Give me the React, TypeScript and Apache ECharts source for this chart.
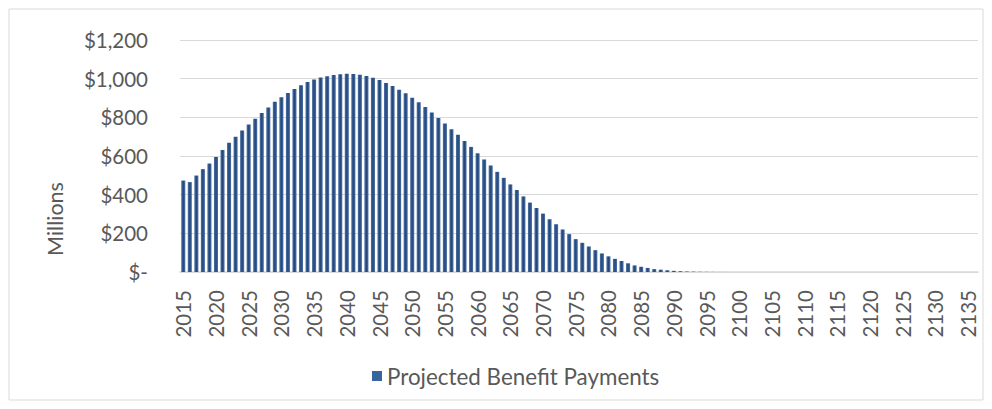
import React, { useEffect, useRef } from "react";
import * as echarts from "echarts";

const years: string[] = [];
for (let y = 2015; y <= 2136; y++) years.push(String(y));

const payments: number[] = [
  473, 465, 499, 532, 561, 595, 631, 668, 700, 732,
  763, 793, 822, 851, 880, 904, 926, 946, 966, 983,
  996, 1006, 1013, 1019, 1023, 1025, 1024, 1020, 1014, 1005,
  993, 978, 962, 943, 925, 901, 878, 853, 825, 796,
  768, 739, 710, 678, 647, 614, 582, 551, 518, 487,
  453, 424, 391, 359, 331, 302, 273, 247, 220, 196,
  170, 151, 132, 113, 96, 81, 68, 57, 45, 34,
  27, 21, 15, 12, 9, 6, 4, 2.5, 1.8, 1.2,
  0.8, 0.5, 0.3, 0.2, 0.1, 0.05, 0.03, 0.02, 0.01, 0,
  0, 0, 0, 0, 0, 0, 0, 0, 0, 0,
  0, 0, 0, 0, 0, 0, 0, 0, 0, 0,
  0, 0, 0, 0, 0, 0, 0, 0, 0, 0,
  0, 0,
];

const yTicks = { min: 0, max: 1200, interval: 200 };
const seriesName = "Projected Benefit Payments";
const axisTitle = "Millions";

const FONT = "Lato";
const TEXT = "#595959";

function fmtMoney(v: number): string {
  if (v === 0) return "$-";
  return "$" + v.toLocaleString("en-US");
}

export default function App() {
  const ref = useRef<HTMLDivElement>(null);
  useEffect(() => {
    if (!ref.current) return;
    const chart = echarts.init(ref.current, undefined, { renderer: "svg" });
    chart.setOption({
      animation: false,
      textStyle: { fontFamily: FONT },
      grid: { left: 172, right: 6, top: 32, bottom: 129, containLabel: false },
      graphic: [
        {
          type: "rect",
          shape: { x: 1, y: 1, width: 974, height: 391 },
          style: { fill: "none", stroke: "#d9d9d9", lineWidth: 1 },
          silent: true,
        },
        {
          type: "text",
          x: 47,
          y: 211,
          rotation: Math.PI / 2,
          style: {
            text: axisTitle,
            fill: TEXT,
            font: `21.5px ${FONT}`,
            align: "center",
            verticalAlign: "middle",
          },
        },
      ],
      legend: {
        left: 359,
        top: 352,
        itemWidth: 10,
        itemHeight: 10,
        icon: "rect",
        textStyle: { color: TEXT, fontSize: 22.4, fontFamily: FONT },
        data: [{ name: seriesName, itemStyle: { color: "#3a64a0" } }],
      },
      xAxis: {
        type: "category",
        data: years,
        axisLine: { show: true, lineStyle: { color: "#d9d9d9", width: 1.5 } },
        axisTick: { show: false },
        axisLabel: {
          rotate: 90,
          interval: 4,
          margin: 18,
          color: TEXT,
          fontSize: 20.5,
          fontFamily: FONT,
        },
        splitLine: { show: false },
      },
      yAxis: {
        type: "value",
        min: yTicks.min,
        max: yTicks.max,
        interval: yTicks.interval,
        axisLine: { show: false },
        axisTick: { show: false },
        axisLabel: {
          margin: 32,
          color: TEXT,
          fontSize: 20.5,
          fontFamily: FONT,
          formatter: (v: number) => fmtMoney(v),
        },
        splitLine: { lineStyle: { color: "#d9d9d9", width: 1 } },
      },
      series: [
        {
          name: seriesName,
          type: "bar",
          data: payments,
          barCategoryGap: "38%",
          itemStyle: {
            color: new echarts.graphic.LinearGradient(0, 0, 1, 0, [
              { offset: 0, color: "#4f74a8" },
              { offset: 0.5, color: "#22467a" },
              { offset: 1, color: "#4f74a8" },
            ]),
          },
        },
      ],
    });
    return () => chart.dispose();
  }, []);
  return <div ref={ref} style={{ width: 976, height: 393 }} />;
}
